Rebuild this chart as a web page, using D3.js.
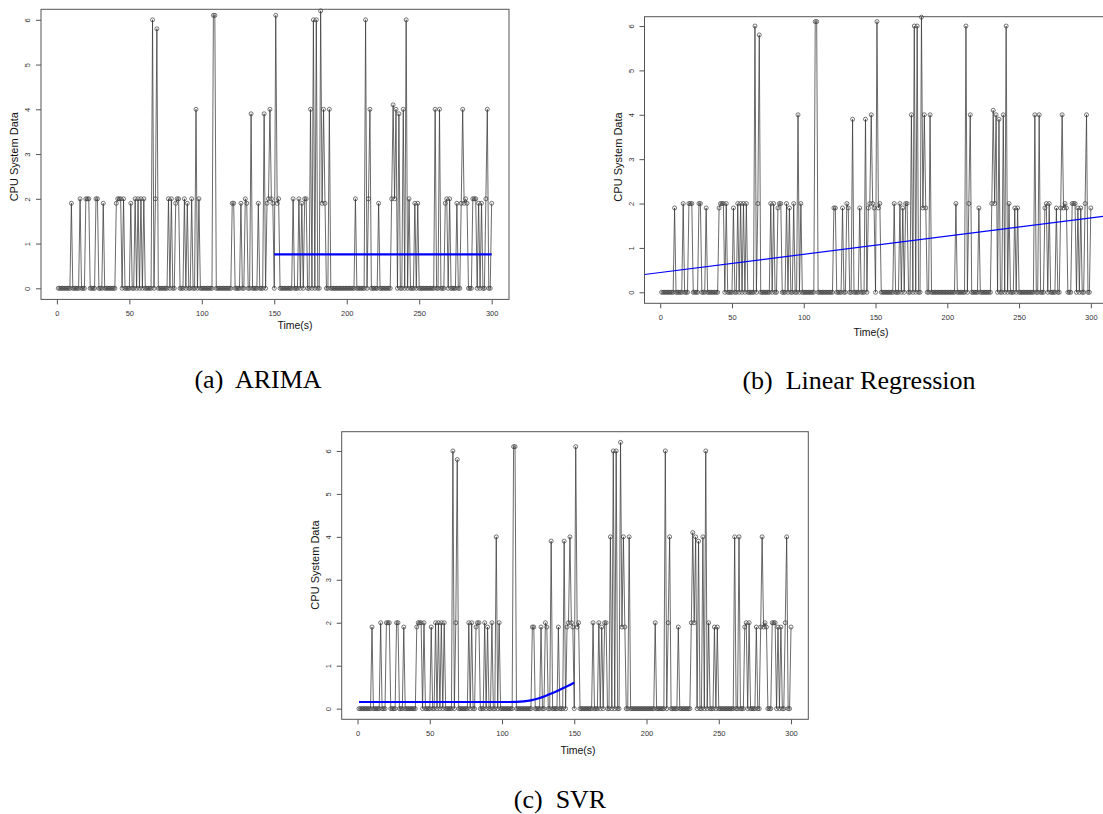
<!DOCTYPE html>
<html>
<head>
<meta charset="utf-8">
<script src="https://cdn.jsdelivr.net/npm/d3@7"></script>
<style>
  body { margin: 0; background: #fff; }
  svg { display: block; }
  .tick text { font-family: "Liberation Sans", Arial, sans-serif; }
</style>
</head>
<body>
<div id="chart"></div>
<script>
// CPU system data, one reading per second (t = 1..300)
const cpuValues = [
    0, 0, 0, 0, 0, 0, 0, 0, 0, 1.9, 0, 0, 0, 0, 0, 2, 0, 0, 0, 2,
    2, 2, 0, 0, 0, 0, 2, 2, 0, 0, 0, 1.9, 0, 0, 0, 0, 0, 0, 0, 0,
    1.9, 2, 2, 2, 0, 2, 0, 0, 0, 0, 1.9, 0, 0, 2, 0, 2, 0, 2, 0, 2,
    0, 0, 0, 0, 0, 6, 0, 2, 5.8, 0, 0, 0, 0, 0, 0, 0, 2, 0, 2, 0,
    0, 1.9, 2, 2, 0, 0, 0, 2, 0, 1.9, 0, 0, 2, 0, 0, 4, 0, 2, 0, 0,
    0, 0, 0, 0, 0, 0, 0, 6.1, 6.1, 0, 0, 0, 0, 0, 0, 0, 0, 0, 0, 0,
    1.9, 1.9, 0, 0, 0, 0, 1.9, 0, 0, 2, 1.9, 0, 0, 3.9, 0, 0, 0, 0, 1.9, 0,
    0, 0, 3.9, 0, 1.9, 2, 4, 2, 1.9, 0, 6.1, 1.9, 2, 0, 0, 0, 0, 0, 0, 0,
    0, 0, 2, 0, 0, 0, 2, 0, 1.9, 0, 2, 2, 0, 0, 4, 0, 6, 0, 6, 0,
    0, 6.2, 1.9, 4, 1.9, 0, 0, 4, 0, 0, 0, 0, 0, 0, 0, 0, 0, 0, 0, 0,
    0, 0, 0, 0, 0, 2, 0, 0, 0, 0, 0, 0, 6, 0, 2, 4, 0, 0, 0, 0,
    0, 1.9, 0, 0, 0, 0, 0, 0, 0, 0, 2, 4.1, 2, 4, 0, 3.9, 0, 0, 4, 0,
    6, 0, 2, 0, 0, 0, 1.9, 0, 1.9, 0, 0, 0, 0, 0, 0, 0, 0, 0, 0, 0,
    4, 0, 0, 4, 0, 0, 0, 1.9, 2, 0, 2, 0, 0, 0, 0, 1.9, 0, 0, 1.9, 4,
    1.9, 2, 1.9, 0, 0, 0, 2, 2, 2, 0, 1.9, 0, 1.9, 0, 0, 2, 4, 0, 0, 1.9
];
const timeSteps = d3.range(1, cpuValues.length + 1);

// ARIMA forecast (flat mean forecast over the second half)
const arimaTime = [150, 300];
const arimaForecast = [0.76, 0.76];

// Linear regression fit
const lmIntercept = 0.446;
const lmSlope = 0.0041;

// SVR fitted curve
const svrTime = [1, 25, 50, 75, 100, 105, 110, 115, 120, 125, 130, 135, 140, 145, 150];
const svrValues = [0.155, 0.155, 0.155, 0.155, 0.155, 0.155, 0.157, 0.167, 0.19, 0.235, 0.295, 0.365, 0.44, 0.52, 0.605];

const xTicks = [0, 50, 100, 150, 200, 250, 300];
const yTicks = [0, 1, 2, 3, 4, 5, 6];

const width = 1103, height = 814;
const lineColor = "#3a3a3a";
const fitColor = "#0000ff";

// panel placement (pixels)
const panels = [
    { key: "arima", caption: "(a)  ARIMA", left: 41, right: 509, top: 9.3, bottom: 299.4, yMax: 6.235,
      titleY: 156.7, timeX: 295, timeY: 329, capX: 258, capY: 388 },
    { key: "lm", caption: "(b)  Linear Regression", left: 644.5, right: 1108, top: 16.7, bottom: 303.3, yMax: 6.21,
      titleY: 157, timeX: 871, timeY: 336, capX: 859, capY: 389 },
    { key: "svr", caption: "(c)  SVR", left: 341.7, right: 808.3, top: 431.7, bottom: 719.3, yMax: 6.448,
      titleY: 565, timeX: 578, timeY: 754, capX: 560, capY: 808 }
];

const svg = d3.select("#chart")
    .append("svg")
    .attr("width", width)
    .attr("height", height);

const points = timeSteps.map((t, i) => ({ t: t, v: cpuValues[i] }));

panels.forEach(p => {
    const x = d3.scaleLinear()
        .domain([-10.96, 311.96])
        .range([p.left, p.right]);

    const y = d3.scaleLinear()
        .domain([-0.248, p.yMax])
        .range([p.bottom, p.top]);

    const g = svg.append("g").attr("class", "panel-" + p.key);

    g.append("clipPath")
        .attr("id", "clip-" + p.key)
        .append("rect")
        .attr("x", p.left)
        .attr("y", p.top)
        .attr("width", p.right - p.left)
        .attr("height", p.bottom - p.top);

    // x axis
    const xAxis = g.append("g")
        .attr("transform", `translate(0, ${p.bottom})`)
        .call(d3.axisBottom(x).tickValues(xTicks).tickSize(5).tickPadding(6.5).tickFormat(d3.format("d")));
    xAxis.select(".domain").remove();
    xAxis.selectAll("line").attr("stroke", "#555");
    xAxis.selectAll("text")
        .attr("font-size", "7.5px")
        .attr("fill", "#333");

    // y axis, labels rotated like R's default
    const yAxis = g.append("g")
        .attr("transform", `translate(${p.left}, 0)`)
        .call(d3.axisLeft(y).tickValues(yTicks).tickSize(5).tickFormat(d3.format("d")));
    yAxis.select(".domain").remove();
    yAxis.selectAll("line").attr("stroke", "#555");
    yAxis.selectAll("text")
        .attr("x", null)
        .attr("dy", null)
        .attr("transform", "translate(-11, 0) rotate(-90)")
        .attr("text-anchor", "middle")
        .attr("font-size", "7.5px")
        .attr("fill", "#333");

    // plot box
    g.append("rect")
        .attr("x", p.left)
        .attr("y", p.top)
        .attr("width", p.right - p.left)
        .attr("height", p.bottom - p.top)
        .attr("fill", "none")
        .attr("stroke", "#555")
        .attr("stroke-width", 1);

    // axis titles
    g.append("text")
        .attr("transform", `translate(${p.left - 23}, ${p.titleY}) rotate(-90)`)
        .attr("text-anchor", "middle")
        .attr("font-family", "Liberation Sans, Arial, sans-serif")
        .attr("font-size", "11px")
        .attr("fill", "#111")
        .text("CPU System Data");

    g.append("text")
        .attr("x", p.timeX)
        .attr("y", p.timeY)
        .attr("text-anchor", "middle")
        .attr("font-family", "Liberation Sans, Arial, sans-serif")
        .attr("font-size", "10.5px")
        .attr("fill", "#111")
        .text("Time(s)");

    // data line + open circles
    const line = d3.line()
        .x(d => x(d.t))
        .y(d => y(d.v));

    g.append("path")
        .datum(points)
        .attr("d", line)
        .attr("fill", "none")
        .attr("stroke", lineColor)
        .attr("stroke-width", 0.75);

    g.append("g")
        .selectAll("circle")
        .data(points)
        .join("circle")
        .attr("cx", d => x(d.t))
        .attr("cy", d => y(d.v))
        .attr("r", 2)
        .attr("fill", "none")
        .attr("stroke", lineColor)
        .attr("stroke-width", 0.7);

    // fitted model
    if (p.key === "arima") {
        const fit = arimaTime.map((t, i) => ({ t: t, v: arimaForecast[i] }));
        g.append("path")
            .datum(fit)
            .attr("d", line)
            .attr("fill", "none")
            .attr("stroke", fitColor)
            .attr("stroke-width", 2.2);
    } else if (p.key === "lm") {
        const [x0, x1] = x.domain();
        g.append("line")
            .attr("clip-path", "url(#clip-lm)")
            .attr("x1", x(x0))
            .attr("y1", y(lmIntercept + lmSlope * x0))
            .attr("x2", x(x1))
            .attr("y2", y(lmIntercept + lmSlope * x1))
            .attr("stroke", fitColor)
            .attr("stroke-width", 1.2);
    } else {
        const fit = svrTime.map((t, i) => ({ t: t, v: svrValues[i] }));
        g.append("path")
            .datum(fit)
            .attr("d", line.curve(d3.curveBasis))
            .attr("fill", "none")
            .attr("stroke", fitColor)
            .attr("stroke-width", 2.2);
    }

    // caption
    g.append("text")
        .attr("x", p.capX)
        .attr("y", p.capY)
        .attr("text-anchor", "middle")
        .attr("font-family", "Liberation Serif, Times New Roman, serif")
        .attr("font-size", "26px")
        .attr("fill", "#000")
        .style("white-space", "pre")
        .text(p.caption);
});
</script>
</body>
</html>
